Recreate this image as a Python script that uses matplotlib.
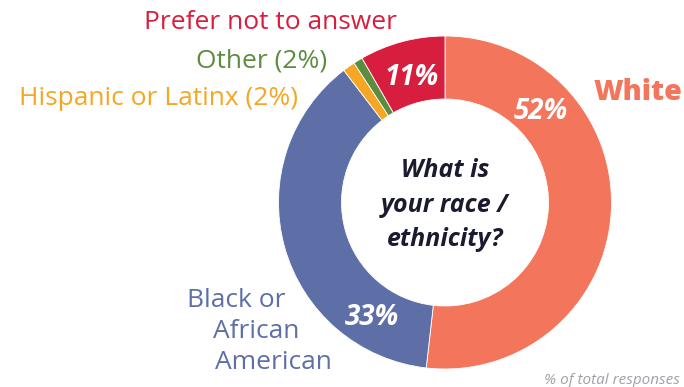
import matplotlib.pyplot as plt

# data (slice shares as drawn in the picture, labels as printed)
labels = ['White', 'Black or African American', 'Hispanic or Latinx', 'Other', 'Prefer not to answer']
values = [51.8, 37.8, 1.2, 0.9, 8.3]
pct_text = ['52%', '33%', '2%', '2%', '11%']
colors = ['#F3765C', '#5D6FA6', '#F5A623', '#5E8C3E', '#D81E3F']

W, H = 684, 387
fig = plt.figure(figsize=(W/100, H/100), dpi=100)
ax = fig.add_axes([0, 0, 1, 1])

# donut, drawn in pixel-like data units
cx, cy, r = 445, H - 202.5, 166.5
ax.pie(values, colors=colors, startangle=90, counterclock=False,
       center=(cx, cy), radius=r,
       wedgeprops=dict(width=63, edgecolor='white', linewidth=0.6))
ax.set_xlim(0, W)
ax.set_ylim(0, H)
ax.set_aspect('equal')
ax.axis('off')

fam = ['Open Sans', 'DejaVu Sans']

def t(x, y, s, **kw):
    ax.text(x, H - y, s, family=fam, va='baseline', **kw)

# center question
qk = dict(ha='center', fontsize=18, fontweight='bold', fontstyle='italic', color='#1b1b2f')
t(cx, 177, 'What is', **qk)
t(cx, 212, 'your race /', **qk)
t(cx, 246, 'ethnicity?', **qk)

# percentages inside the ring
pk = dict(ha='center', fontsize=20, fontweight='bold', fontstyle='italic', color='white')
t(541, 119, pct_text[0], **pk)
t(412, 85, pct_text[4], **pk)
t(372, 325, pct_text[1], **pk)

# outside labels
t(638, 100, labels[0], ha='center', fontsize=20.5, fontweight='heavy', color=colors[0])
t(270, 29, labels[4], ha='center', fontsize=19, color=colors[4])
t(327, 67, labels[3] + ' (' + pct_text[3] + ')', ha='right', fontsize=19, color=colors[3])
t(298, 105, labels[2] + ' (' + pct_text[2] + ')', ha='right', fontsize=19, color=colors[2])
t(187, 307, 'Black or', ha='left', fontsize=19, color=colors[1])
t(213, 338, 'African', ha='left', fontsize=19, color=colors[1])
t(215, 369, 'American', ha='left', fontsize=19, color=colors[1])

t(680, 384, '% of total responses', ha='right', fontsize=11,
  fontstyle='italic', color='#a0a0a8')

plt.savefig('out.png', dpi=100)
